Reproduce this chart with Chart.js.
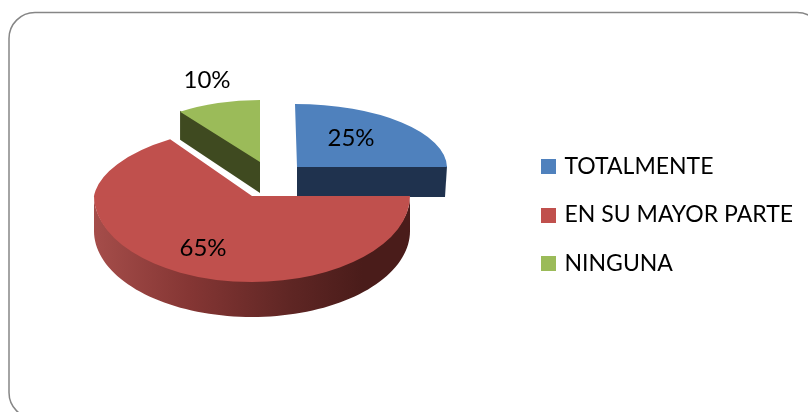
<!DOCTYPE html>
<html><head><meta charset="utf-8">
<style>html,body{margin:0;padding:0;background:#fff}#wrap{width:808px;height:412px;position:relative}canvas{display:block}</style>
<script src="https://cdn.jsdelivr.net/npm/chart.js@4"></script>
</head><body><div id="wrap"><canvas id="c" width="808" height="412"></canvas></div>
<script>
const categories = ['TOTALMENTE', 'EN SU MAYOR PARTE', 'NINGUNA'];
const percentages = [25, 65, 10];
const topColors = ['#4f81bd', '#c0504d', '#9bbb59'];

// Tilted 3D view for each slice: apex, radii on screen, and label centre.
const views = [
  {ax:297, ay:167, rx:150, ryBack:63, ryFront:63, skew:2,     depth:30, label:[351,138]},
  {ax:252, ay:196, rx:158, ryBack:70, ryFront:86, skew:-13.6, depth:35, label:[203,248]},
  {ax:260, ay:162, rx:136, ryBack:62, ryFront:62, skew:0,     depth:30, label:[207,80]}
];
const FONT = 'Lato, Carlito, sans-serif';
const FS = 23;
const LABEL_FS = 24;

function pt(v, a, shrink){
  const s = Math.sin(a);
  return [v.ax + v.rx*Math.cos(a) + (s<0 ? v.skew*s : 0), v.ay + ((s<0 ? v.ryBack : v.ryFront)-(shrink||0))*s];
}
function drawTop(ctx, el, v, ry, skew, clip){
  const R = el.outerRadius;
  ctx.save();
  if (clip){ ctx.beginPath(); ctx.rect(clip[0],clip[1],clip[2],clip[3]); ctx.clip(); }
  const a = v.rx/R, c = skew/R, d = ry/R;
  ctx.transform(a,0,c,d, v.ax-a*el.x-c*el.y, v.ay-d*el.y);
  el.draw(ctx);
  ctx.restore();
}
function drawSide(ctx, el, v, i){
  if (i === 1){
    // round outer wall of the large slice
    const g = ctx.createLinearGradient(v.ax-v.rx,0,v.ax+v.rx,0);
    g.addColorStop(0,'#a54d4a'); g.addColorStop(0.3,'#853634');
    g.addColorStop(0.62,'#5f2624'); g.addColorStop(0.85,'#4a1c1a'); g.addColorStop(1,'#4a1c1a');
    ctx.fillStyle = g;
    ctx.beginPath();
    const n = 80;
    for (let k=0;k<=n;k++){ const p = pt(v, Math.PI*k/n, 4); k?ctx.lineTo(p[0],p[1]):ctx.moveTo(p[0],p[1]); }
    for (let k=n;k>=0;k--){ const p = pt(v, Math.PI*k/n); ctx.lineTo(p[0],p[1]+v.depth); }
    ctx.closePath(); ctx.fill();
  } else {
    // flat cut face along the slice's exposed radial edge
    const edge = i === 0 ? el.endAngle : el.startAngle;
    const p = pt(v, edge);
    ctx.fillStyle = i === 0 ? '#1f324e' : '#3f4a20';
    ctx.beginPath();
    ctx.moveTo(v.ax,v.ay-1); ctx.lineTo(p[0],p[1]-1);
    ctx.lineTo(p[0]-(i===0?2:0),p[1]+v.depth-(i===0?0:2)); ctx.lineTo(v.ax,v.ay+v.depth+(i===0?0:1));
    ctx.closePath(); ctx.fill();
  }
}

const pie3d = {
  id:'pie3d',
  beforeDraw(chart){
    const ctx = chart.ctx;
    ctx.save();
    ctx.strokeStyle = '#868686'; ctx.lineWidth = 1.5;
    ctx.beginPath(); ctx.roundRect(9,12.5,814,406,26); ctx.stroke();
    ctx.restore();
  },
  beforeDatasetDraw(chart, args){
    const ctx = chart.ctx, els = chart.getDatasetMeta(args.index).data;
    [2,0,1].forEach(i=>{
      const el = els[i], v = views[i];
      drawSide(ctx, el, v, i);
      if (i === 1){
        drawTop(ctx, el, v, v.ryFront, 0, [0,v.ay,808,412]);
        drawTop(ctx, el, v, v.ryBack, v.skew, [0,0,808,v.ay+0.5]);
      } else {
        drawTop(ctx, el, v, v.ryBack, v.skew);
      }
    });
    ctx.save();
    ctx.fillStyle = '#000'; ctx.font = LABEL_FS+'px '+FONT; ctx.textAlign='center'; ctx.textBaseline='middle';
    percentages.forEach((p,i)=>ctx.fillText(p+'%', views[i].label[0], views[i].label[1]));
    ctx.restore();
    return false;
  }
};

function swatch(color){
  const s = document.createElement('canvas'); s.width = 15; s.height = 15;
  const x = s.getContext('2d'); x.fillStyle = color; x.fillRect(0,0,15,15);
  return s;
}

new Chart(document.getElementById('c'), {
  type:'pie',
  data:{labels:categories, datasets:[{data:percentages, backgroundColor:topColors, borderWidth:0, hoverOffset:0}]},
  options:{
    responsive:false, animation:false,
    layout:{padding:{top:18,right:5,bottom:0,left:0}},
    plugins:{
      tooltip:{enabled:false},
      legend:{
        position:'right',
        labels:{
          color:'#000', boxWidth:10, boxHeight:15, padding:25.5, usePointStyle:true,
          font:{family:FONT,size:FS},
          generateLabels(chart){
            return categories.map((t,i)=>({text:t, fillStyle:topColors[i], strokeStyle:topColors[i], lineWidth:0, pointStyle:swatch(topColors[i]), index:i, fontColor:'#000'}));
          }
        }
      }
    }
  },
  plugins:[pie3d]
});
</script></body></html>
